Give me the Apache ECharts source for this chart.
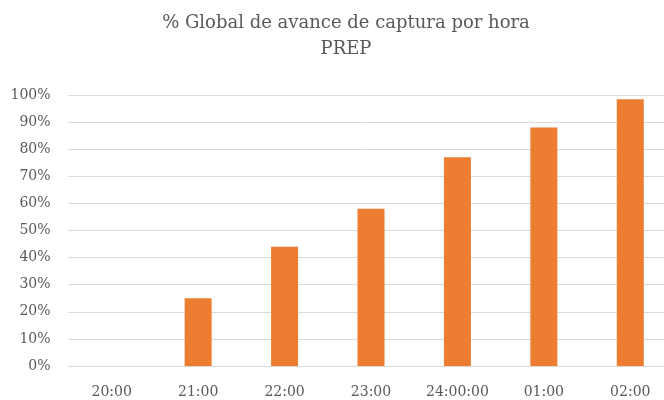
<!DOCTYPE html>
<html><head><meta charset="utf-8">
<script src="https://cdn.jsdelivr.net/npm/echarts@6/dist/echarts.min.js"></script>
<style>html,body{margin:0;padding:0;background:#fff}#c{width:664px;height:400px}</style>
</head><body><div id="c"></div>
<script>
const categories = ['20:00','21:00','22:00','23:00','24:00:00','01:00','02:00'];
const values = [0, 25, 44, 58, 77, 88, 98.4];
const titleLines = ['% Global de avance de captura por hora', 'PREP'];
const font = 'DejaVu Serif';
const chart = echarts.init(document.getElementById('c'));
chart.setOption({
  animation: false,
  title: {
    text: titleLines.join('\n'),
    left: 341, top: 5, textAlign: 'center',
    textStyle: {fontFamily: font, fontSize: 18, fontWeight: 'normal', color: '#595959', lineHeight: 26}
  },
  grid: {left: 68.5, width: 605, top: 95, height: 271, containLabel: false, outerBoundsMode: 'none'},
  xAxis: {
    type: 'category', data: categories,
    axisLine: {show: true, lineStyle: {color: '#d9d9d9', width: 1}},
    axisTick: {show: false},
    axisLabel: {fontFamily: font, fontSize: 14, color: '#595959', margin: 19}
  },
  yAxis: {
    type: 'value', min: 0, max: 100, interval: 10,
    axisLine: {show: false}, axisTick: {show: false},
    splitLine: {lineStyle: {color: '#d9d9d9', width: 1}},
    axisLabel: {fontFamily: font, fontSize: 14, color: '#595959', margin: 18, formatter: v => v + '%'}
  },
  series: [{
    type: 'bar', data: values, barWidth: 27,
    itemStyle: {color: '#ED7D31'}
  }]
});
</script></body></html>
